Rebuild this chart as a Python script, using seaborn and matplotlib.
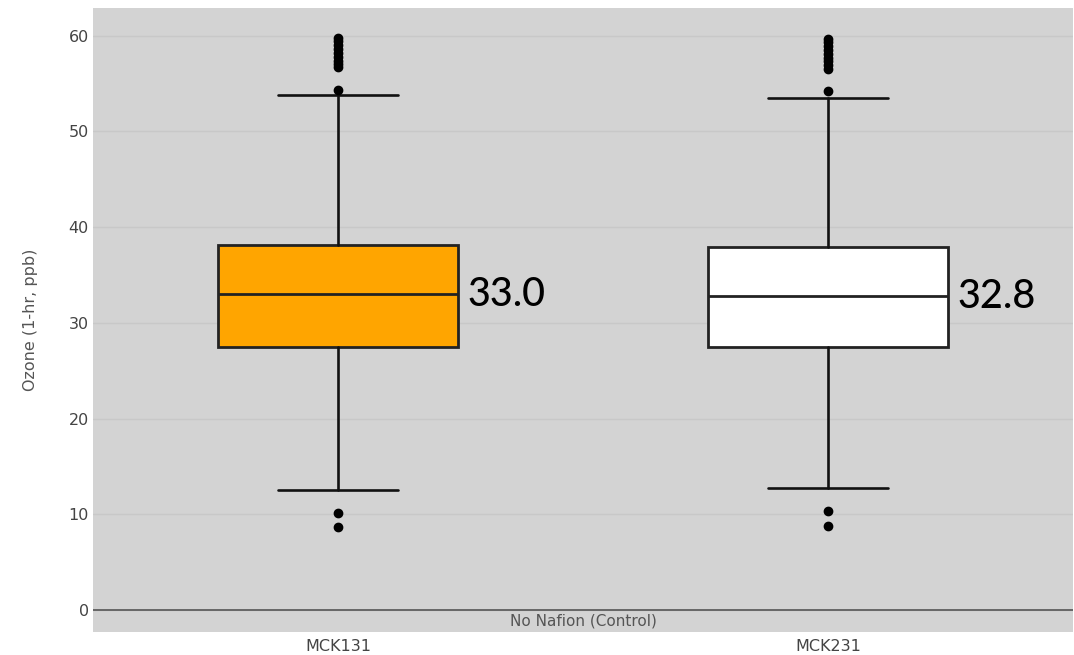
import matplotlib
matplotlib.use('Agg')
import matplotlib.pyplot as plt
import seaborn as sns

# ─────────────────────────────────────────
# DATA
# ─────────────────────────────────────────
sensors   = ['MCK131', 'MCK231']
medians   = [33.0, 32.8]
q1        = [27.5, 27.5]
q3        = [38.1, 37.9]
whis_lo   = [12.5, 12.7]
whis_hi   = [53.8, 53.5]
outliers  = [
    [8.7, 10.1, 54.3, 56.7, 57.0, 57.4, 57.8, 58.2, 58.6, 59.0, 59.4, 59.8],
    [8.8, 10.3, 54.2, 56.5, 56.9, 57.3, 57.7, 58.1, 58.5, 58.9, 59.3, 59.6],
]
box_colors = ['#FFA500', '#FFFFFF']
group_label = 'No Nafion (Control)'

# ─────────────────────────────────────────
# STYLE
# ─────────────────────────────────────────
sns.set_theme(style='darkgrid', rc={
    'axes.facecolor': '#d3d3d3',
    'grid.color': '#c8c8c8',
    'grid.linewidth': 1.0,
})
plt.rcParams['font.family'] = ['DejaVu Sans']

fig = plt.figure(figsize=(10.74, 6.55), dpi=100)
fig.patch.set_facecolor('white')
ax = fig.add_axes([0.0866, 0.035, 0.9125, 0.953])

stats = []
for i, name in enumerate(sensors):
    stats.append(dict(label=name, med=medians[i], q1=q1[i], q3=q3[i],
                      whislo=whis_lo[i], whishi=whis_hi[i],
                      fliers=outliers[i]))

bp = ax.bxp(stats, positions=range(len(sensors)), widths=0.49,
            patch_artist=True, showfliers=True,
            boxprops=dict(edgecolor='#222222', linewidth=2.0),
            medianprops=dict(color='#222222', linewidth=2.0),
            whiskerprops=dict(color='#111111', linewidth=1.9),
            capprops=dict(color='#111111', linewidth=1.9),
            capwidths=0.245,
            flierprops=dict(marker='o', markerfacecolor='black',
                            markeredgecolor='black', markersize=6))
for patch, c in zip(bp['boxes'], box_colors):
    patch.set_facecolor(c)

# median annotations
for i, m in enumerate(medians):
    ax.text(i + 0.265, m, f'{m:.1f}', ha='left', va='center',
            fontsize=28.5, color='black', fontweight='medium',
            family=['Lato', 'DejaVu Sans'])

ax.set_xlim(-0.5, 1.5)
ax.set_ylim(-2.3, 62.9)
ax.set_yticks([0, 10, 20, 30, 40, 50, 60])
ax.grid(axis='x', visible=False)
ax.axhline(0, color='#555555', linewidth=1.2, zorder=1)

ax.set_xticks(range(len(sensors)))
ax.set_xticklabels(sensors)
ax.tick_params(axis='both', colors='#444444', labelsize=11.5, length=0, pad=3)
ax.tick_params(axis='x', pad=5)
ax.set_ylabel('Ozone (1-hr, ppb)', color='#555555', fontsize=11.5, labelpad=22)

ax.text(0.5, 0.018, group_label, transform=ax.transAxes, ha='center',
        va='center', fontsize=11, color='#555555')

for s in ax.spines.values():
    s.set_visible(False)

fig.savefig('out.png', dpi=100, facecolor=fig.get_facecolor())
